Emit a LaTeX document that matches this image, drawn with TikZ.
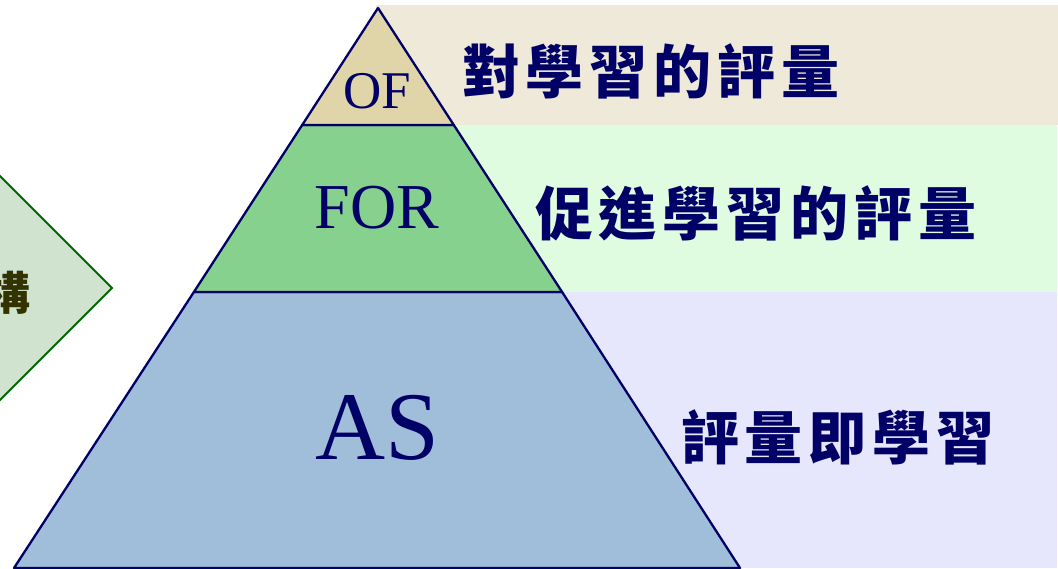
\documentclass[tikz,border=0pt]{standalone}
\usepackage{fontspec}
\setmainfont{Liberation Serif}
\newfontfamily\cjk{Noto Sans CJK TC}
\definecolor{navy}{HTML}{000066}
\definecolor{bandA}{HTML}{EEE9D8}
\definecolor{bandB}{HTML}{E0FCE0}
\definecolor{bandC}{HTML}{E6E6FC}
\definecolor{tierOF}{HTML}{E0D5A8}
\definecolor{tierFOR}{HTML}{86D18E}
\definecolor{tierAS}{HTML}{A0BEDA}
\definecolor{dfill}{HTML}{CFE3CF}
\definecolor{dline}{HTML}{006600}
\definecolor{olive}{HTML}{333300}
\newcommand{\gapk}{\kern6pt}
\begin{document}
\begin{tikzpicture}[x=1pt,y=-1pt,
  tier/.style={draw=navy,line width=2.3pt,line join=round},
  lat/.style={text=navy,inner sep=0pt,anchor=center},
  cjklabel/.style={text=navy,inner sep=0pt,anchor=center,font=\cjk\bfseries\fontsize{58}{64}\selectfont}]
\useasboundingbox (0,0) rectangle (1058,568);
% background bands
\fill[bandA] (376,5) rectangle (1058,125);
\fill[bandB] (376,125) rectangle (1057,292);
\fill[bandC] (376,292) rectangle (1057,568);
% diamond
\draw[fill=dfill,draw=dline,line width=2pt,line join=miter] (112,288) -- (-20,156) -- (-152,288) -- (-20,420) -- cycle;
\node[text=olive,inner sep=0pt,anchor=east,font=\cjk\bfseries\fontsize{46}{50}\selectfont] (gou) at (31,293) {構};
% pyramid tiers
\draw[tier,fill=tierAS] (193.9,292) -- (562.1,292) -- (740,568) -- (14,568) -- cycle;
\draw[tier,fill=tierFOR] (302.2,125) -- (453.8,125) -- (562.1,292) -- (193.9,292) -- cycle;
\draw[tier,fill=tierOF] (378,8) -- (453.8,125) -- (302.2,125) -- cycle;
% pyramid labels
\node[lat,font=\fontsize{53}{60}\selectfont] (of) at (377,91) {OF};
\node[lat,font=\fontsize{64}{70}\selectfont] (for) at (377,208) {FOR};
\node[lat,font=\fontsize{97}{100}\selectfont] (as) at (377,428) {AS};
% right labels
\node[cjklabel] (l1) at (651,71) {對\gapk 學\gapk 習\gapk 的\gapk 評\gapk 量};
\node[cjklabel] (l2) at (756,213) {促\gapk 進\gapk 學\gapk 習\gapk 的\gapk 評\gapk 量};
\node[cjklabel] (l3) at (838,437) {評\gapk 量\gapk 即\gapk 學\gapk 習};
\end{tikzpicture}
\end{document}
